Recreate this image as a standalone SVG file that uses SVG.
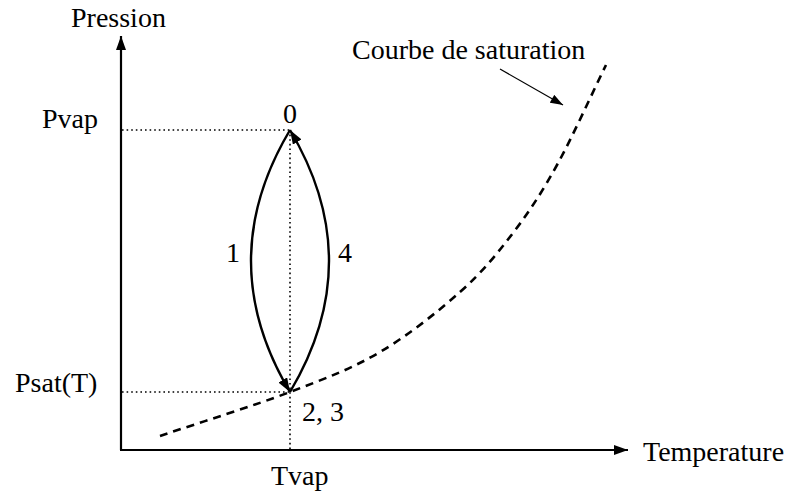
<svg xmlns="http://www.w3.org/2000/svg" width="788" height="493" viewBox="0 0 788 493">
<style>
text{font-family:"Liberation Serif","Times New Roman",serif;font-size:28px;fill:#000}
.axis{stroke:#000;stroke-width:2.2;fill:none}
.arc{stroke:#000;stroke-width:2.4;fill:none}
.dot{stroke:#000;stroke-width:1.6;fill:none;stroke-dasharray:1.6 3}
.dash{stroke:#000;stroke-width:2.6;fill:none;stroke-dasharray:8 6}
.thin{stroke:#000;stroke-width:1.2;fill:none}
</style>
<defs>
<marker id="ah" viewBox="0 0 14 10" refX="14" refY="5" markerWidth="14" markerHeight="10" markerUnits="userSpaceOnUse" orient="auto"><path d="M0,0 L14,5 L0,10 Z" fill="#000"/></marker>
<marker id="ahs" viewBox="0 0 14 10" refX="14" refY="5" markerWidth="14" markerHeight="9" markerUnits="userSpaceOnUse" orient="auto"><path d="M0,0 L14,5 L0,10 Z" fill="#000"/></marker>
</defs>
<g id="axes">
<line class="axis" x1="121" y1="450" x2="121" y2="36" marker-end="url(#ah)"/>
<line class="axis" x1="120" y1="450" x2="628" y2="450" marker-end="url(#ah)"/>
</g>
<g id="guides">
<line class="dot" x1="122" y1="130" x2="290" y2="130"/>
<line class="dot" x1="122" y1="392" x2="290" y2="392"/>
<line class="dot" x1="290" y1="130" x2="290" y2="450"/>
</g>
<g id="saturation-curve">
<path class="dash" d="M160,436 C203.3,421.3 253.3,406 290,392 C326.7,378 351.7,368.7 380,352 C408.3,335.3 437.8,311.8 460,292 C482.2,272.2 496.8,254.2 513,233 C529.2,211.8 541.5,193 557,165 C572.5,137 589.7,98.3 606,65"/>
</g>
<g id="connectors">
<path class="arc" d="M290,130 Q212,261 290,392" marker-end="url(#ah)"/>
<path class="arc" d="M290,392 Q368,261 290,130" marker-end="url(#ah)"/>
<line class="thin" x1="500" y1="69" x2="563" y2="105" marker-end="url(#ahs)"/>
</g>
<g id="labels">
<text x="71" y="27">Pression</text>
<text x="42" y="128">Pvap</text>
<text x="15" y="392">Psat(T)</text>
<text x="290" y="123" text-anchor="middle">0</text>
<text x="233" y="262" text-anchor="middle">1</text>
<text x="345" y="262" text-anchor="middle">4</text>
<text x="302" y="421">2, 3</text>
<text x="271" y="485">Tvap</text>
<text x="643" y="461">Temperature</text>
<text x="352" y="59">Courbe de saturation</text>
</g>
</svg>
